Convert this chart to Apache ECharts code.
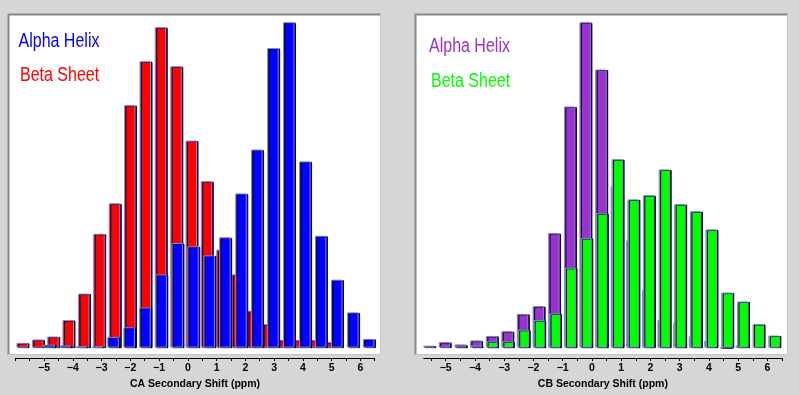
<!DOCTYPE html>
<html><head><meta charset="utf-8">
<script src="https://cdn.jsdelivr.net/npm/echarts@6/dist/echarts.min.js"></script>
<style>html,body{margin:0;padding:0;background:#d6d6d6}#c{width:799px;height:395px}</style>
</head><body><div id="c"></div>
<script>
// Left panel: CA secondary shift histograms (bin centre in ppm, relative count)
const redX  = [-5.76,-5.22,-4.69,-4.16,-3.62,-3.09,-2.55,-2.02,-1.48,-0.95,-0.41,0.12,0.65,1.19,1.72,2.26,2.79,3.33,3.86,4.40,4.93];
const redY  = [4.8,8.2,11.2,27.8,54.5,114.8,145.5,244.5,288.8,323.2,283.8,208.8,167.8,98.8,73.8,37.2,23.8,7.8,7.8,7.8,5.5];
const blueX = [-4.82,-4.26,-3.71,-3.15,-2.60,-2.04,-1.49,-0.93,-0.37,0.18,0.74,1.29,1.85,2.40,2.96,3.51,4.07,4.62,5.18,5.74,6.29];
const blueY = [3,2.2,1.2,1.2,10.8,20.5,40.5,73.8,105.5,102.2,93,111.2,155.5,199.8,302.2,328.2,187.8,112.8,68.5,35.5,8.8];
// Right panel: CB secondary shift histograms
const purpleX = [-5.57,-5.04,-4.50,-3.97,-3.43,-2.90,-2.37,-1.83,-1.30,-0.76,-0.23,0.31,0.84,1.37,1.91,2.44,2.98,3.51,4.04,4.58,5.11];
const purpleY = [2,5.5,3.2,7.2,11.8,16.5,34,41.8,115.5,243.2,328.2,280.5,162.8,108.2,58.2,27.8,25.5,11.5,7.2,0,2.2];
const greenX  = [-4.49,-3.95,-3.42,-2.88,-2.34,-1.81,-1.27,-0.74,-0.20,0.33,0.87,1.41,1.94,2.48,3.01,3.55,4.08,4.62,5.16,5.69,6.23];
const greenY  = [2.2,2.2,6.3,6.3,18,27.8,34.5,80.5,110.5,135.5,190,149.5,153.8,179.7,144.7,137.5,119.2,55.5,46.5,23.8,12.2];
// Axis ticks and labels
const tickLabels = [-5,-4,-3,-2,-1,0,1,2,3,4,5,6];
const ticksLeft  = [-6,-5.5,-5,-4.5,-4,-3.5,-3,-2.5,-2,-1.5,-1,-0.5,0,0.5,1,1.5,2,2.5,3,3.5,4,4.5,5,5.5,6,6.5];
const ticksRight = [-5.5,-5,-4.5,-4,-3.5,-3,-2.5,-2,-1.5,-1,-0.5,0,0.5,1,1.5,2,2.5,3,3.5,4,4.5,5,5.5,6,6.5];
const legendLeft  = ['Alpha Helix','Beta Sheet'];
const legendRight = ['Alpha Helix','Beta Sheet'];
const xNames = ['CA Secondary Shift (ppm)','CB Secondary Shift (ppm)'];

const chart = echarts.init(document.getElementById('c'), null, {renderer:'canvas'});
const FONT = '"Liberation Sans", Arial, sans-serif';

function xAxisCfg(gi, min, max, ticks, name){
  return {
    gridIndex: gi, type: 'value', min: min, max: max, position: 'bottom', offset: 10.5,
    axisLine: {show: true, onZero: false, lineStyle: {color: '#000', width: 1}},
    axisTick: {show: true, length: 3, customValues: ticks, lineStyle: {color: '#000', width: 1}},
    axisLabel: {customValues: tickLabels, formatter: v => String(v).replace('-', '\u2212'),
      color: '#000', fontSize: 10.5, fontWeight: 'bold', fontFamily: FONT, margin: 5},
    splitLine: {show: false},
    name: name, nameLocation: 'middle', nameGap: 18,
    nameTextStyle: {color: '#000', fontSize: 10.5, fontWeight: 'bold', fontFamily: FONT}
  };
}
function barSeries(gi, xs, ys, color, z){
  return {
    type: 'bar', xAxisIndex: gi, yAxisIndex: gi, barWidth: 11.5, barGap: '-100%', z: z,
    data: xs.map((x, i) => [x, ys[i]]),
    itemStyle: {color: color, borderColor: '#8888cc', borderWidth: 1,
      shadowColor: '#000038', shadowOffsetX: 1.5, shadowOffsetY: 0.5, shadowBlur: 0},
    emphasis: {disabled: true}, animation: false
  };
}
function frame(x, y, w, h){
  return [
    {type: 'rect', z: 0, shape: {x: x, y: y, width: w, height: h}, style: {fill: '#ffffff'}},
    {type: 'polyline', z: 1, shape: {points: [[x + 0.5, y + h], [x + 0.5, y + 0.5], [x + w, y + 0.5]]}, style: {stroke: '#888888', lineWidth: 2, fill: null}},
    {type: 'polyline', z: 1, shape: {points: [[x + w - 0.5, y], [x + w - 0.5, y + h - 0.5], [x, y + h - 0.5]]}, style: {stroke: '#c4c4c4', lineWidth: 1, fill: null}}
  ];
}
function label(text, x, y, color){
  return {type: 'text', z: 10, x: x, y: y, scaleX: 0.8,
    style: {text: text, font: '20px ' + FONT, fill: color, verticalAlign: 'middle', align: 'left'}};
}

chart.setOption({
  backgroundColor: '#d6d6d6',
  animation: false,
  grid: [
    {left: 15.3, top: 14, width: 359.4, bottom: 44.5, show: false},
    {left: 423.7, top: 14, width: 358.3, bottom: 44.5, show: false}
  ],
  xAxis: [
    xAxisCfg(0, -6, 6.5, ticksLeft, xNames[0]),
    xAxisCfg(1, -5.75, 6.5, ticksRight, xNames[1])
  ],
  yAxis: [
    {gridIndex: 0, type: 'value', min: 0, max: 336.5, show: false},
    {gridIndex: 1, type: 'value', min: 0, max: 336.5, show: false}
  ],
  graphic: [].concat(
    frame(8, 14, 373, 341),
    frame(415, 14, 373, 341),
    [label(legendLeft[0], 18.5, 41.5, '#0000ff'),
     label(legendLeft[1], 20, 75, '#ff0000'),
     label(legendRight[0], 429, 46, '#9933cc'),
     label(legendRight[1], 431, 81, '#00ff00')]
  ),
  series: [
    barSeries(0, redX, redY, '#ff0000', 2),
    barSeries(0, blueX, blueY, '#0000ff', 3),
    barSeries(1, purpleX, purpleY, '#9933cc', 2),
    barSeries(1, greenX, greenY, '#00ff00', 3)
  ]
});
</script></body></html>
